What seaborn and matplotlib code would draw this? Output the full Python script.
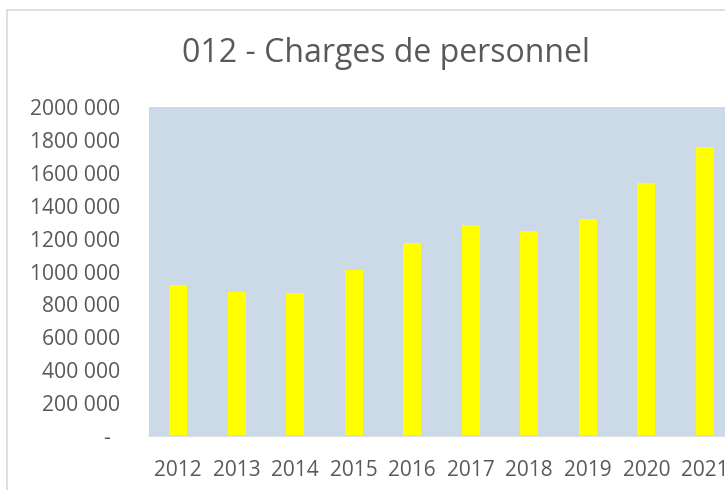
import matplotlib
matplotlib.use("Agg")
import matplotlib.pyplot as plt
import matplotlib.transforms as mtransforms
from matplotlib.patches import Rectangle
import seaborn as sns
import pandas as pd

years = ["2012", "2013", "2014", "2015", "2016", "2017", "2018", "2019", "2020", "2021"]
charges = [916000, 875000, 867000, 1009000, 1175000, 1285000, 1244000, 1317000, 1536000, 1755000]
y_ticks = [0, 200000, 400000, 600000, 800000, 1000000, 1200000, 1400000, 1600000, 1800000, 2000000]
y_labels = ["-", "200 000", "400 000", "600 000", "800 000", "1000 000", "1200 000",
            "1400 000", "1600 000", "1800 000", "2000 000"]
title = "012 - Charges de personnel"

sns.set_theme(style="white")
plt.rcParams["font.family"] = ["Open Sans", "DejaVu Sans"]

W, H = 725, 490
fig = plt.figure(figsize=(W / 100, H / 100), dpi=100)
fig.patch.set_facecolor("white")

# chart border (partly cropped on right/bottom)
fig.patches.append(Rectangle((7 / W, -0.2), 2.0, (H - 10) / H + 0.2,
                             transform=fig.transFigure, fill=False,
                             edgecolor="#D9D9D9", linewidth=1.2, zorder=0))

ax = fig.add_axes([149 / W, (H - 436) / H, 585 / W, 329 / H])
df = pd.DataFrame({"year": years, "value": charges})
sns.barplot(data=df, x="year", y="value", ax=ax, color="#FFFF00",
            saturation=1, width=0.31, edgecolor="none")

ax.set_facecolor("#CCD9E6")
ax.set_xlim(-0.5, len(years) - 0.5)
ax.set_ylim(0, 2000000)
ax.set_yticks(y_ticks)
ax.set_yticklabels(y_labels)
ax.set_xlabel("")
ax.set_ylabel("")
for s in ["top", "right", "left"]:
    ax.spines[s].set_visible(False)
ax.spines["bottom"].set_color("#D9D9D9")
ax.spines["bottom"].set_linewidth(1.2)
ax.tick_params(axis="both", length=0, colors="#595959")
ax.tick_params(axis="y", pad=21, labelsize=15.2)
ax.tick_params(axis="x", pad=17, labelsize=15)
for lab in ax.get_yticklabels():
    if lab.get_text() == "-":
        lab.set_transform(lab.get_transform() + mtransforms.ScaledTranslation(-10 / 100, 0, fig.dpi_scale_trans))

fig.text(385.5 / W, (H - 54) / H, title, ha="center", va="center",
         fontsize=23, color="#595959")

fig.savefig("out.png", dpi=100)
